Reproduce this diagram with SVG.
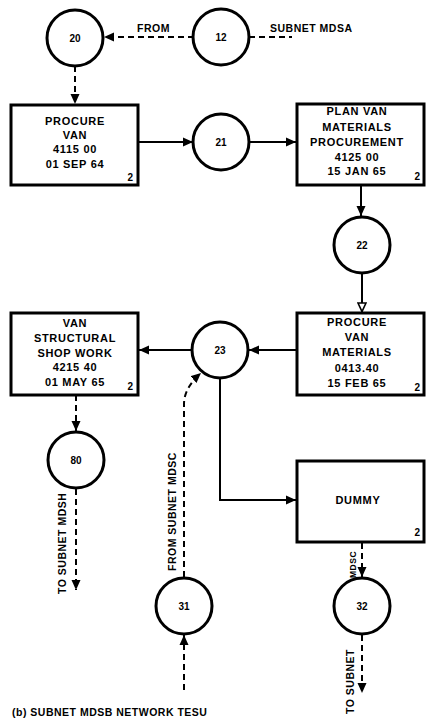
<svg xmlns="http://www.w3.org/2000/svg" width="427" height="719" viewBox="0 0 427 719">
<style>
  .box { fill: #fff; stroke: #000; stroke-width: 3; }
  .circ { fill: #fff; stroke: #000; stroke-width: 3; }
  .ln { fill: none; stroke: #000; stroke-width: 2; }
  .dash { fill: none; stroke: #000; stroke-width: 2; stroke-dasharray: 6 4; }
  .t { font-family: "Liberation Sans", Arial, sans-serif; font-weight: bold; font-size: 11px; letter-spacing: 0.7px; text-anchor: middle; fill: #000; }
  .n { font-family: "Liberation Sans", Arial, sans-serif; font-weight: bold; font-size: 10px; text-anchor: middle; fill: #000; }
  .c { font-family: "Liberation Sans", Arial, sans-serif; font-weight: bold; font-size: 10px; text-anchor: end; fill: #000; }
  .lab { font-family: "Liberation Sans", Arial, sans-serif; font-weight: bold; font-size: 10.5px; letter-spacing: 0.5px; fill: #000; }
</style>
<defs>
  <marker id="ah" markerUnits="userSpaceOnUse" markerWidth="12" markerHeight="10" refX="10" refY="5" orient="auto">
    <path d="M0,0.5 L10,5 L0,9.5 Z" fill="#000"/>
  </marker>
  <marker id="ahOpen" markerUnits="userSpaceOnUse" markerWidth="12" markerHeight="10" refX="10" refY="5" orient="auto">
    <path d="M1,1 L9.5,5 L1,9 Z" fill="#fff" stroke="#000" stroke-width="1.6"/>
  </marker>
</defs>

<g id="connectors">
  <line class="dash" x1="194" y1="37" x2="104" y2="37" marker-end="url(#ah)"/>
  <line class="dash" x1="249" y1="37" x2="292" y2="37"/>
  <line class="dash" x1="75" y1="66" x2="75" y2="104" marker-end="url(#ah)"/>
  <line class="ln" x1="138" y1="142" x2="193" y2="142" marker-end="url(#ah)"/>
  <line class="ln" x1="249" y1="142" x2="296" y2="142" marker-end="url(#ah)"/>
  <line class="ln" x1="361" y1="185" x2="361" y2="216" marker-end="url(#ah)"/>
  <line class="ln" x1="362" y1="273" x2="362" y2="312" marker-end="url(#ahOpen)"/>
  <line class="ln" x1="297" y1="350" x2="249" y2="350" marker-end="url(#ah)"/>
  <line class="ln" x1="192" y1="350" x2="139" y2="350" marker-end="url(#ah)"/>
  <line class="dash" x1="76" y1="395" x2="76" y2="431" marker-end="url(#ah)"/>
  <line class="dash" x1="76" y1="489" x2="76" y2="590" marker-end="url(#ah)"/>
  <polyline class="ln" points="220,378 220,500 296,500" marker-end="url(#ah)"/>
  <path class="dash" d="M184,577 L184,404 Q184,388 201,373" marker-end="url(#ah)"/>
  <line class="dash" x1="184" y1="690" x2="184" y2="635" marker-end="url(#ah)"/>
  <line class="dash" x1="362" y1="543" x2="362" y2="577" marker-end="url(#ah)"/>
  <line class="dash" x1="362" y1="635" x2="362" y2="693" marker-end="url(#ah)"/>
</g>

<g id="n20"><circle class="circ" cx="75" cy="38" r="28"/><text class="n" x="75" y="42">20</text></g>
<g id="n12"><circle class="circ" cx="221" cy="37" r="28"/><text class="n" x="221" y="41">12</text></g>
<g id="n21"><circle class="circ" cx="221" cy="142" r="28"/><text class="n" x="221" y="146">21</text></g>
<g id="n22"><circle class="circ" cx="362" cy="245" r="28"/><text class="n" x="362" y="249">22</text></g>
<g id="n23"><circle class="circ" cx="220" cy="350" r="28"/><text class="n" x="220" y="354">23</text></g>
<g id="n80"><circle class="circ" cx="76" cy="460" r="28"/><text class="n" x="76" y="464">80</text></g>
<g id="n31"><circle class="circ" cx="184" cy="606" r="28"/><text class="n" x="184" y="610">31</text></g>
<g id="n32"><circle class="circ" cx="362" cy="606" r="28"/><text class="n" x="362" y="610">32</text></g>

<g id="procureVan">
  <rect class="box" x="11" y="105" width="127" height="80"/>
  <text class="t" x="75" y="125">PROCURE</text>
  <text class="t" x="75" y="139">VAN</text>
  <text class="t" x="75" y="153">4115 00</text>
  <text class="t" x="75" y="168">01 SEP 64</text>
  <text class="c" x="133" y="181">2</text>
</g>
<g id="planVan">
  <rect class="box" x="297" y="104" width="127" height="81"/>
  <text class="t" x="357" y="115">PLAN VAN</text>
  <text class="t" x="357" y="131">MATERIALS</text>
  <text class="t" x="357" y="146">PROCUREMENT</text>
  <text class="t" x="357" y="161">4125 00</text>
  <text class="t" x="357" y="175">15 JAN 65</text>
  <text class="c" x="420" y="180">2</text>
</g>
<g id="procureVanMaterials">
  <rect class="box" x="297" y="313" width="127" height="82"/>
  <text class="t" x="357" y="326">PROCURE</text>
  <text class="t" x="357" y="341">VAN</text>
  <text class="t" x="357" y="356">MATERIALS</text>
  <text class="t" x="357" y="372">0413.40</text>
  <text class="t" x="357" y="387">15 FEB 65</text>
  <text class="c" x="420" y="391">2</text>
</g>
<g id="vanStructural">
  <rect class="box" x="11" y="313" width="127" height="82"/>
  <text class="t" x="75" y="327">VAN</text>
  <text class="t" x="75" y="342">STRUCTURAL</text>
  <text class="t" x="75" y="357">SHOP WORK</text>
  <text class="t" x="75" y="371">4215 40</text>
  <text class="t" x="75" y="386">01 MAY 65</text>
  <text class="c" x="133" y="390">2</text>
</g>
<g id="dummy">
  <rect class="box" x="297" y="461" width="127" height="81"/>
  <text class="t" x="358" y="504">DUMMY</text>
  <text class="c" x="420" y="536">2</text>
</g>

<g id="labels">
  <text class="lab" x="137" y="32">FROM</text>
  <text class="lab" x="270" y="32">SUBNET MDSA</text>
  <text class="lab" transform="translate(66,594) rotate(-90)">TO SUBNET MDSH</text>
  <text class="lab" transform="translate(176,571) rotate(-90)">FROM SUBNET MDSC</text>
  <text class="lab" style="font-size:8.5px" transform="translate(356,578) rotate(-90)">MDSC</text>
  <text class="lab" transform="translate(354,714) rotate(-90)">TO SUBNET</text>
  <text class="lab" x="12" y="716">(b) SUBNET MDSB NETWORK TESU</text>
</g>
</svg>
